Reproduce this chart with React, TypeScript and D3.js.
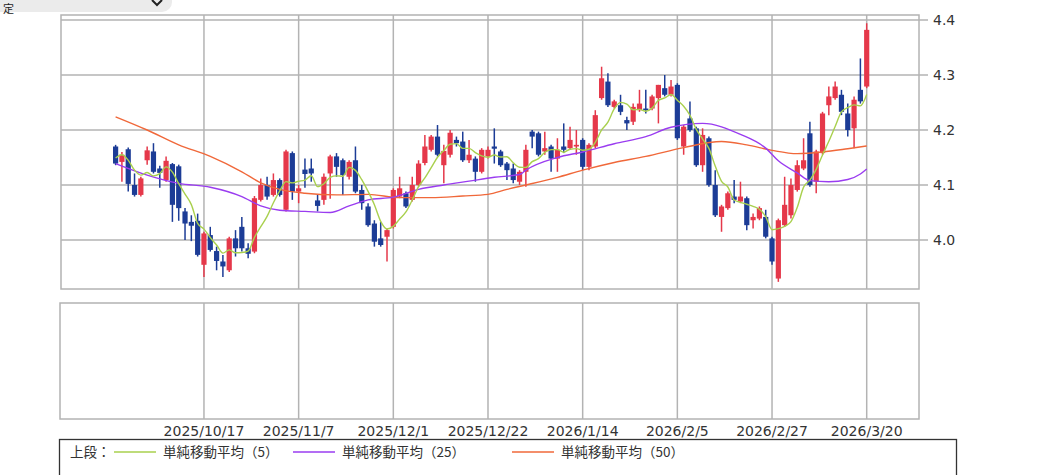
import React from "react";
import * as d3 from "d3";

// OHLC per trading day, index 0 = first candle
const opens = [
  4.170, 4.142, 4.165, 4.100, 4.082, 4.145, 4.161, 4.130, 4.109, 4.138,
  4.134, 4.052, 4.033, 4.035, 3.955, 4.009, 3.980, 3.961, 3.945, 4.003,
  4.024, 3.985, 3.979, 4.073, 4.100, 4.082, 4.109, 4.055, 4.158, 4.088,
  4.128, 4.130, 4.072, 4.073, 4.121, 4.152, 4.145, 4.115, 4.145, 4.091,
  4.061, 4.030, 4.003, 4.006, 4.024, 4.079, 4.085, 4.073, 4.100, 4.140,
  4.164, 4.188, 4.136, 4.155, 4.182, 4.179, 4.145, 4.148, 4.124, 4.152,
  4.170, 4.161, 4.139, 4.130, 4.106, 4.124, 4.197, 4.194, 4.161, 4.170,
  4.148, 4.170, 4.167, 4.170, 4.182, 4.133, 4.170, 4.258, 4.288, 4.242,
  4.245, 4.218, 4.215, 4.236, 4.239, 4.239, 4.258, 4.276, 4.264, 4.282,
  4.170, 4.221, 4.203, 4.136, 4.185, 4.100, 4.042, 4.058, 4.079, 4.070,
  4.076, 4.036, 4.039, 4.042, 4.003, 3.930, 4.027, 4.045, 4.091, 4.130,
  4.194, 4.106, 4.158, 4.245, 4.258, 4.264, 4.230, 4.203, 4.273, 4.279,
];
const highs = [
  4.173, 4.160, 4.168, 4.121, 4.115, 4.170, 4.176, 4.135, 4.152, 4.140,
  4.137, 4.058, 4.045, 4.048, 4.015, 4.024, 3.988, 3.973, 4.006, 4.018,
  4.042, 3.994, 4.080, 4.112, 4.115, 4.121, 4.112, 4.164, 4.161, 4.100,
  4.148, 4.148, 4.082, 4.121, 4.155, 4.158, 4.148, 4.145, 4.170, 4.100,
  4.067, 4.036, 4.033, 4.021, 4.094, 4.115, 4.088, 4.115, 4.145, 4.191,
  4.191, 4.209, 4.173, 4.200, 4.188, 4.197, 4.182, 4.152, 4.167, 4.170,
  4.203, 4.164, 4.142, 4.139, 4.127, 4.173, 4.200, 4.197, 4.197, 4.173,
  4.185, 4.212, 4.206, 4.200, 4.185, 4.176, 4.236, 4.315, 4.303, 4.255,
  4.264, 4.224, 4.248, 4.273, 4.273, 4.264, 4.282, 4.300, 4.291, 4.285,
  4.209, 4.252, 4.206, 4.203, 4.188, 4.127, 4.064, 4.088, 4.109, 4.106,
  4.079, 4.048, 4.061, 4.055, 4.006, 4.039, 4.115, 4.112, 4.145, 4.185,
  4.215, 4.164, 4.233, 4.279, 4.288, 4.273, 4.248, 4.261, 4.330, 4.394,
];
const lows = [
  4.136, 4.106, 4.088, 4.079, 4.079, 4.137, 4.121, 4.095, 4.106, 4.033,
  4.035, 4.000, 3.998, 3.970, 3.933, 3.979, 3.945, 3.933, 3.942, 3.970,
  3.979, 3.967, 3.976, 4.070, 4.073, 4.079, 4.079, 4.052, 4.073, 4.067,
  4.095, 4.106, 4.052, 4.064, 4.075, 4.115, 4.082, 4.110, 4.085, 4.055,
  4.024, 3.988, 3.988, 3.961, 4.021, 4.076, 4.058, 4.070, 4.097, 4.136,
  4.161, 4.152, 4.103, 4.150, 4.170, 4.142, 4.140, 4.106, 4.121, 4.148,
  4.139, 4.133, 4.109, 4.103, 4.100, 4.097, 4.167, 4.152, 4.155, 4.124,
  4.124, 4.158, 4.164, 4.155, 4.127, 4.127, 4.167, 4.255, 4.242, 4.239,
  4.227, 4.200, 4.209, 4.233, 4.230, 4.236, 4.212, 4.261, 4.261, 4.182,
  4.155, 4.197, 4.133, 4.124, 4.097, 4.042, 4.015, 4.055, 4.067, 4.067,
  4.018, 4.021, 4.036, 4.003, 3.955, 3.924, 4.024, 4.039, 4.088, 4.127,
  4.097, 4.085, 4.155, 4.227, 4.255, 4.227, 4.188, 4.167, 4.248, 4.276,
];
const closes = [
  4.139, 4.155, 4.102, 4.082, 4.112, 4.163, 4.124, 4.122, 4.144, 4.064,
  4.058, 4.030, 4.026, 3.973, 4.012, 3.982, 3.962, 3.952, 4.003, 3.985,
  3.985, 3.975, 4.076, 4.100, 4.079, 4.109, 4.082, 4.161, 4.088, 4.094,
  4.120, 4.121, 4.062, 4.115, 4.152, 4.133, 4.118, 4.142, 4.088, 4.067,
  4.027, 3.997, 3.991, 4.018, 4.091, 4.094, 4.061, 4.100, 4.139, 4.170,
  4.188, 4.155, 4.162, 4.195, 4.176, 4.145, 4.155, 4.124, 4.164, 4.164,
  4.166, 4.136, 4.127, 4.109, 4.124, 4.164, 4.188, 4.155, 4.167, 4.148,
  4.164, 4.164, 4.182, 4.173, 4.133, 4.173, 4.227, 4.294, 4.245, 4.252,
  4.233, 4.212, 4.242, 4.248, 4.236, 4.261, 4.282, 4.264, 4.279, 4.185,
  4.206, 4.200, 4.136, 4.191, 4.100, 4.045, 4.061, 4.085, 4.073, 4.079,
  4.027, 4.042, 4.058, 4.006, 3.961, 4.036, 4.064, 4.100, 4.136, 4.145,
  4.100, 4.161, 4.230, 4.261, 4.279, 4.233, 4.200, 4.255, 4.252, 4.382,
];

// 5-day MA for the first four days (earlier closes are off-chart)
const ma5Lead = [4.149, 4.155, 4.145, 4.127];

// MA(25) and MA(50): [day index, value]
const ma25: [number, number][] = [
  [0, 4.139], [5, 4.118], [10, 4.103], [15, 4.096], [20, 4.079], [23, 4.062],
  [26, 4.054], [30, 4.052], [34, 4.050], [37, 4.062], [40, 4.073], [44, 4.078],
  [48, 4.092], [52, 4.100], [56, 4.107], [60, 4.114], [64, 4.119], [65, 4.127],
  [70, 4.150], [74, 4.160], [79, 4.175], [84, 4.188], [88, 4.205], [93, 4.212],
  [99, 4.192], [103, 4.167], [105, 4.144], [108, 4.122], [110, 4.108],
  [113, 4.106], [116, 4.110], [118, 4.120], [119, 4.129],
];
const ma50: [number, number][] = [
  [0, 4.224], [5, 4.200], [10, 4.173], [15, 4.152], [20, 4.124], [23, 4.104],
  [26, 4.092], [30, 4.085], [35, 4.082], [40, 4.083], [45, 4.077], [50, 4.077],
  [55, 4.080], [59, 4.083], [62, 4.092], [65, 4.100], [70, 4.114], [74, 4.127],
  [79, 4.141], [84, 4.152], [90, 4.168], [96, 4.179], [100, 4.173], [104, 4.163],
  [108, 4.157], [112, 4.160], [116, 4.166], [119, 4.171],
];

const xTickIdx = [14, 29, 44, 59, 74, 89, 104, 119];
const xTickLabels = [
  "2025/10/17", "2025/11/7", "2025/12/1", "2025/12/22",
  "2026/1/14", "2026/2/5", "2026/2/27", "2026/3/20",
];
const yTicks = [4.0, 4.1, 4.2, 4.3, 4.4];

const legendItems = [
  { label: "単純移動平均（5）", color: "#a9d04e" },
  { label: "単純移動平均（25）", color: "#9a3cf0" },
  { label: "単純移動平均（50）", color: "#f0683a" },
];

const UP = "#e5384a";
const DOWN = "#1c3c96";
const GRID = "#b3b3b3";
const FONT = "'DejaVu Sans', sans-serif";
const JFONT = "'Noto Sans CJK JP', sans-serif";

export default function App() {
  const W = 1063, H = 475;
  const left = 61, right = 919;
  const top = 15, bottom = 289;
  const lowTop = 303, lowBottom = 419;

  const x = d3.scaleLinear().domain([0, 119]).range([115.6, 866.7]);
  const y = d3.scaleLinear().domain([3.911, 4.409]).range([bottom, top]);

  const ma5: [number, number][] = closes.map((_, i) => {
    if (i < 4) return [i, ma5Lead[i]];
    return [i, d3.mean(closes.slice(i - 4, i + 1)) as number];
  });

  const line = d3
    .line<[number, number]>()
    .x((d) => x(d[0]))
    .y((d) => y(d[1]))
    .curve(d3.curveMonotoneX);

  const bw = 5.2;

  return (
    <svg
      width={W}
      height={H}
      style={{ position: "absolute", left: 0, top: 0, background: "#fff" }}
    >
      {/* dropdown remnant at top-left */}
      <rect x={-20} y={-20} width={192} height={32} rx={10} fill="#ebebeb" />
      <text x={3} y={13} fontSize={11} fontFamily={JFONT} fill="#222">定</text>
      <path d="M152,0 L157,5 L162,0" fill="none" stroke="#222" strokeWidth={2} />

      {/* upper panel */}
      <rect x={left} y={top} width={right - left} height={bottom - top} fill="#fff" stroke={GRID} strokeWidth={1.5} />
      {yTicks.map((t) => (
        <g key={t}>
          <line x1={left} x2={right + 9} y1={y(t)} y2={y(t)} stroke={GRID} strokeWidth={1.5} />
          <text x={933} y={y(t)} dy="0.35em" fontSize={14} fontFamily={FONT} fill="#333">
            {t.toFixed(1)}
          </text>
        </g>
      ))}
      {xTickIdx.map((t) => (
        <line key={t} x1={x(t)} x2={x(t)} y1={top} y2={bottom} stroke={GRID} strokeWidth={1.5} />
      ))}

      {/* candles */}
      {closes.map((c, i) => {
        const o = opens[i];
        const col = c >= o ? UP : DOWN;
        const yt = y(Math.max(o, c));
        const yb = y(Math.min(o, c));
        return (
          <g key={i}>
            <line x1={x(i)} x2={x(i)} y1={y(highs[i])} y2={y(lows[i])} stroke={col} strokeWidth={1.5} />
            <rect x={x(i) - bw / 2} y={yt} width={bw} height={Math.max(1.5, yb - yt)} fill={col} />
          </g>
        );
      })}

      {/* moving averages */}
      <path d={line(ma50) || ""} fill="none" stroke={legendItems[2].color} strokeWidth={1.4} />
      <path d={line(ma25) || ""} fill="none" stroke={legendItems[1].color} strokeWidth={1.4} />
      <path d={line(ma5) || ""} fill="none" stroke={legendItems[0].color} strokeWidth={1.4} />

      {/* lower panel */}
      <rect x={left - 1} y={lowTop} width={right - left + 1} height={lowBottom - lowTop} fill="#fff" stroke={GRID} strokeWidth={1.5} />
      {xTickIdx.map((t, k) => (
        <g key={t}>
          <line x1={x(t)} x2={x(t)} y1={lowTop} y2={lowBottom} stroke={GRID} strokeWidth={1.5} />
          <text x={x(t)} y={436} textAnchor="middle" fontSize={14} fontFamily={FONT} fill="#333">
            {xTickLabels[k]}
          </text>
        </g>
      ))}

      {/* legend */}
      <rect x={59.5} y={439.5} width={897} height={60} fill="#fff" stroke="#333" strokeWidth={1.3} />
      <text x={70} y={457} fontSize={13.5} fontFamily={JFONT} fill="#333">上段：</text>
      {legendItems.map((d, k) => {
        const lx = [114, 293, 512][k];
        return (
          <g key={d.label}>
            <line x1={lx} x2={lx + 42} y1={452} y2={452} stroke={d.color} strokeWidth={1.3} />
            <text x={lx + 49} y={457} fontSize={13.5} fontFamily={JFONT} fill="#333">
              {d.label}
            </text>
          </g>
        );
      })}
    </svg>
  );
}
